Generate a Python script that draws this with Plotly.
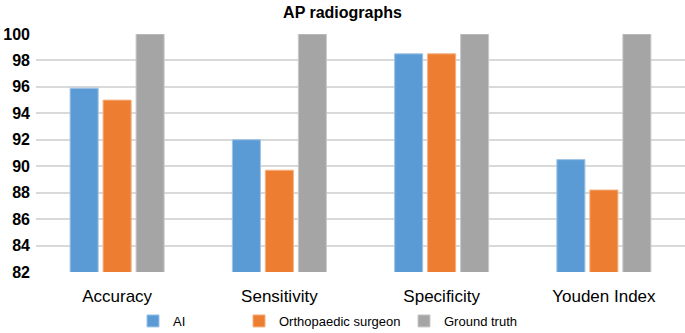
import plotly.graph_objects as go

categories = ["Accuracy", "Sensitivity", "Specificity", "Youden Index"]
ai = [95.9, 92.0, 98.5, 90.5]
surgeon = [95.0, 89.7, 98.5, 88.2]
ground_truth = [100, 100, 100, 100]
y_ticks = [82, 84, 86, 88, 90, 92, 94, 96, 98, 100]

FONT = "Arial, 'Liberation Sans', sans-serif"

fig = go.Figure()
fig.add_bar(x=categories, y=ai, name="AI", legend="legend",
            marker=dict(color="#5B9BD5", line=dict(color="#9DC3E6", width=1)))
fig.add_bar(x=categories, y=surgeon, name="Orthopaedic surgeon", legend="legend2",
            marker=dict(color="#ED7D31", line=dict(color="#F4B183", width=1)))
fig.add_bar(x=categories, y=ground_truth, name="Ground truth", legend="legend3",
            marker=dict(color="#A5A5A5", line=dict(color="#C9C9C9", width=1)))

def leg(xpx):
    return dict(orientation="h", xref="container", yref="container",
                x=xpx / 685, xanchor="left", y=1 - 321 / 333, yanchor="middle",
                font=dict(family=FONT, size=13, color="#000000"),
                itemwidth=30, bgcolor="rgba(0,0,0,0)")

fig.update_layout(
    width=685, height=333,
    margin=dict(l=36, r=0, t=34, b=61),
    paper_bgcolor="white", plot_bgcolor="white",
    barmode="group", bargap=0.39, bargroupgap=0.15,
    title=dict(text="<b>AP radiographs</b>", x=0.5, xanchor="center",
               y=0.963, yanchor="middle",
               font=dict(family=FONT, size=16, color="#000000")),
    font=dict(family=FONT, color="#000000"),
    showlegend=True,
    legend=leg(133), legend2=leg(239), legend3=leg(404),
)
fig.update_xaxes(showgrid=False, showline=False, ticks="", ticklabelstandoff=12,
                 tickfont=dict(family=FONT, size=17, color="#000000"))
fig.update_yaxes(range=[82, 100], tickvals=y_ticks,
                 ticktext=[f"<b>{v}</b>" for v in y_ticks],
                 showgrid=True, gridcolor="#D9D9D9", gridwidth=1.5,
                 zeroline=False, showline=False, ticks="", ticklabelstandoff=5,
                 tickfont=dict(family=FONT, size=16, color="#000000"))

fig.write_html("out.html", config={"displayModeBar": False},
               post_script="document.body.style.margin='0';")
